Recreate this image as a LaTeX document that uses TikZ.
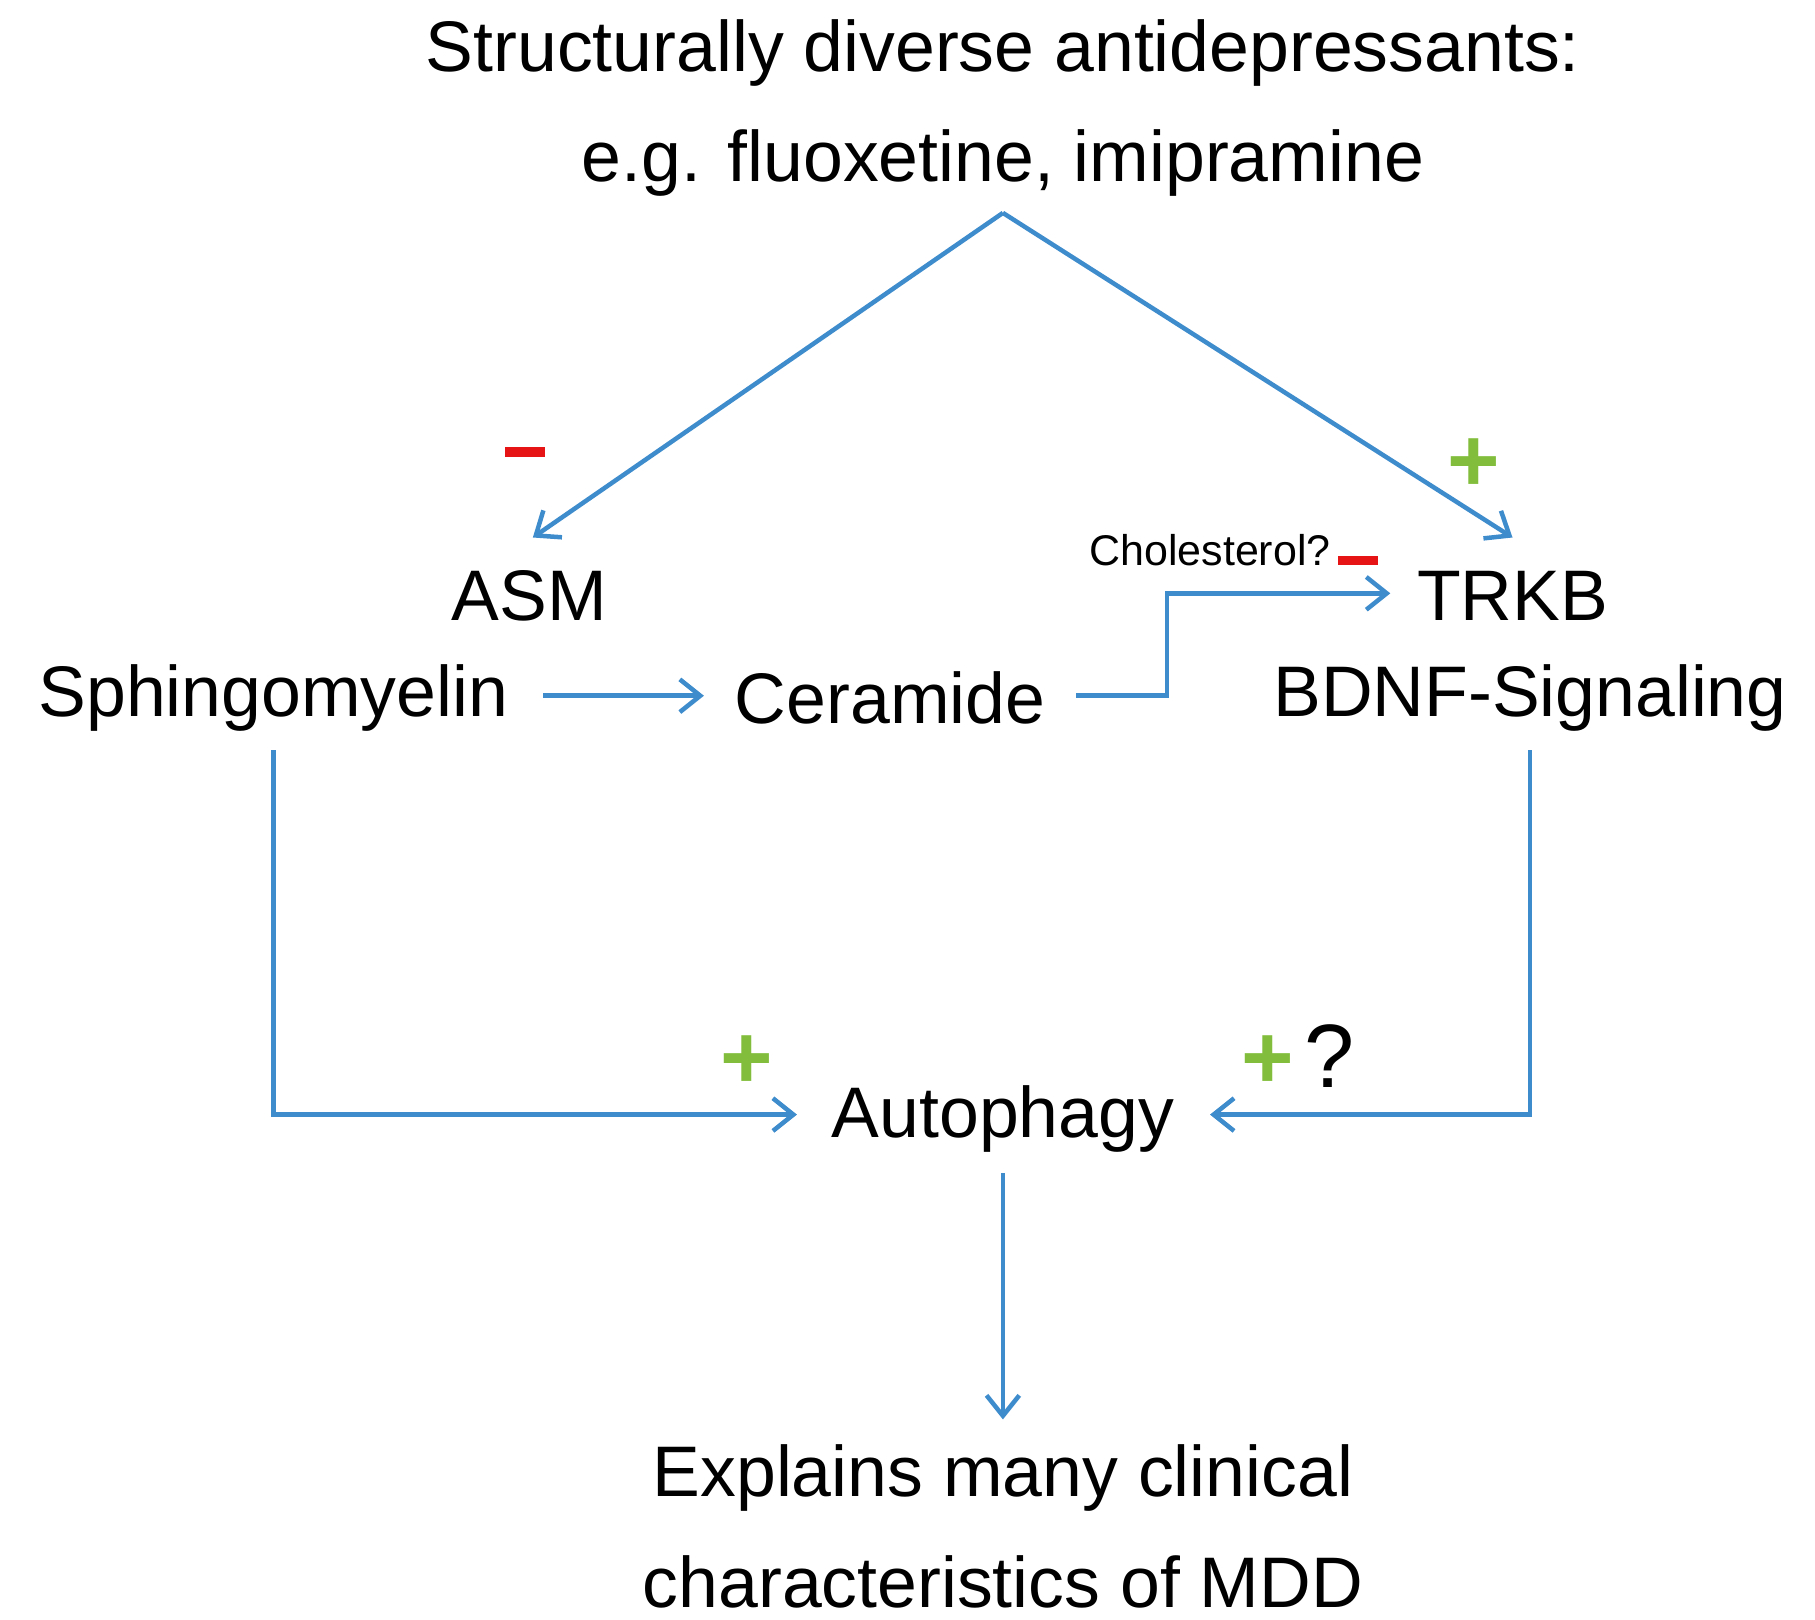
\documentclass[tikz,border=0pt]{standalone}
\usepackage{fontspec}
\setmainfont{Liberation Sans}
\usetikzlibrary{arrows.meta}
\definecolor{ln}{RGB}{62,140,204}
\definecolor{mred}{RGB}{230,20,20}
\definecolor{pgreen}{RGB}{130,190,60}
\begin{document}
\begin{tikzpicture}[x=0.01cm,y=-0.01cm,
  lbl/.style={inner sep=0pt,font=\fontsize{17.5}{21}\selectfont},
  arr/.style={draw=ln,line width=1.1pt,-{Straight Barb[length=5pt,width=8pt]}},
  minus/.style={fill=mred,draw=none},
  plus/.style={inner sep=0pt,text=pgreen,font=\fontsize{22}{22}\selectfont\bfseries}]
\useasboundingbox (0,0) rectangle (1560,1392);
\node[lbl,align=center] (top) at (862,93) {Structurally diverse antidepressants:\\[6pt]e.g. fluoxetine, imipramine};
\coordinate (apex) at (862,183);
\coordinate (asmt) at (458,462);
\coordinate (trkt) at (1300,462);
\draw[arr] (apex) -- (asmt);
\draw[arr] (apex) -- (trkt);
\fill[minus] (434,384) rectangle (468,393);
\node[plus] (p1) at (1267,400) {+};
\node[lbl] (asm) at (455,512) {ASM};
\node[lbl] (sph) at (235,600) {Sphingomyelin};
\node[lbl] (cer) at (765,600) {Ceramide};
\node[lbl] (trkb) at (1300,512) {TRKB};
\node[lbl] (bdnf) at (1315,600) {BDNF-Signaling};
\node[inner sep=0pt,font=\fontsize{10.5}{12}\selectfont] (chol) at (1040,473) {Cholesterol?};
\fill[minus] (1150,478) rectangle (1184,486);
\coordinate (s1) at (467,598);
\coordinate (s2) at (605,598);
\draw[arr] (s1) -- (s2);
\coordinate (c1) at (925,598);
\coordinate (c2) at (1195,510);
\draw[arr] (c1) -- (1003,598) -- (1003,510) -- (c2);
\node[lbl] (auto) at (862,962) {Autophagy};
\coordinate (l1) at (235,645);
\coordinate (l2) at (685,958);
\draw[arr] (l1) -- (235,958) -- (l2);
\coordinate (r1) at (1315,645);
\coordinate (r2) at (1040,958);
\draw[arr] (r1) -- (1315,958) -- (r2);
\node[plus] (p2) at (642,913) {+};
\node[plus] (p3) at (1090,913) {+};
\node[lbl,font=\fontsize{22}{22}\selectfont] (q) at (1143,908) {?};
\coordinate (a1) at (862,1008);
\coordinate (a2) at (862,1220);
\draw[arr] (a1) -- (a2);
\node[lbl,align=center] (bot) at (862,1312) {Explains many clinical\\[6pt]characteristics of MDD};
\end{tikzpicture}
\end{document}
